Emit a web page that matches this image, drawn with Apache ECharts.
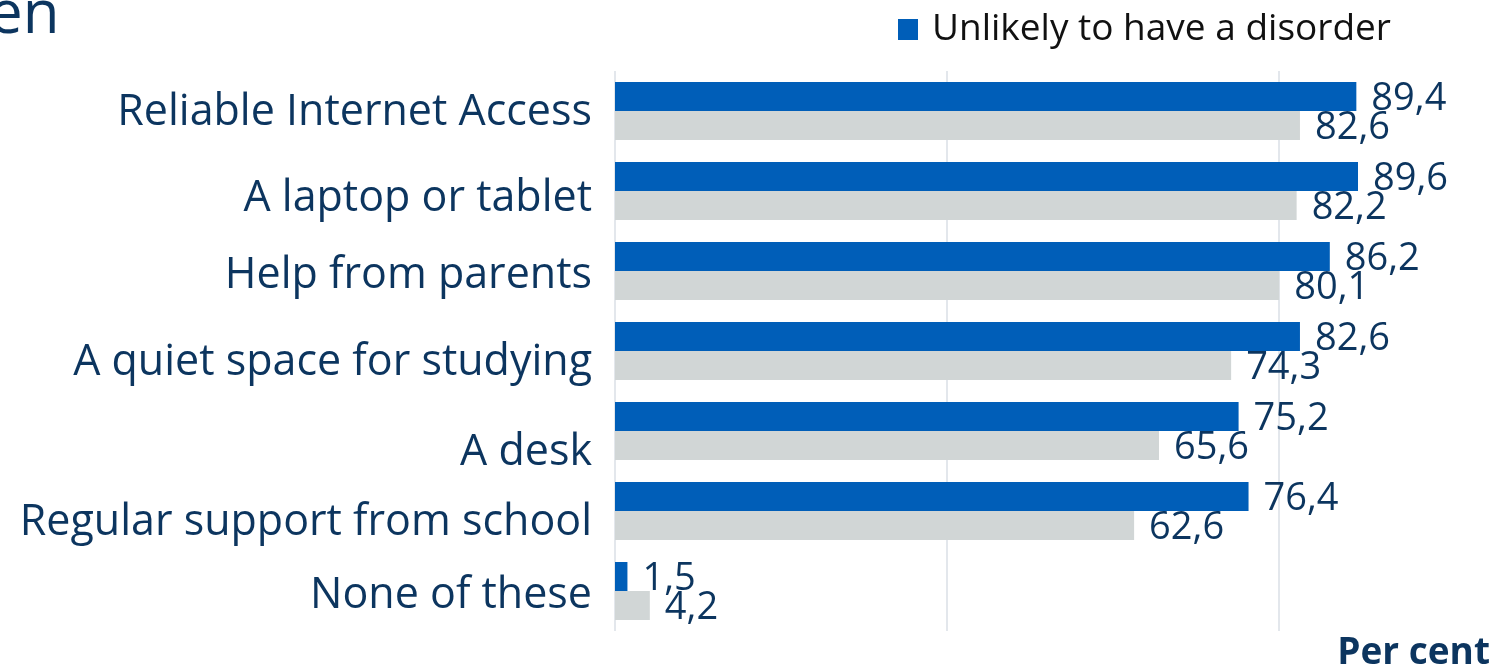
<!DOCTYPE html>
<html>
<head>
<meta charset="utf-8">
<script src="https://cdn.jsdelivr.net/npm/echarts@6/dist/echarts.min.js"></script>
<style>
  html, body { margin: 0; padding: 0; background: #fff; }
  #chart { width: 1494px; height: 667px; }
</style>
</head>
<body>
<div id="chart"></div>
<script>
// Resources available for home learning, by disorder status (per cent)
const categories = [
  'Reliable Internet Access',
  'A laptop or tablet',
  'Help from parents',
  'A quiet space for studying',
  'A desk',
  'Regular support from school',
  'None of these'
];
const unlikelyValues = [89.4, 89.6, 86.2, 82.6, 75.2, 76.4, 1.5];
const likelyValues = [82.6, 82.2, 80.1, 74.3, 65.6, 62.6, 4.2];
// visible part of the value axis runs to ~106; grid lines every 40
const axisTicks = { min: 0, max: 106, interval: 40 };

// downward nudge (px) of each category label relative to its band centre
const labelNudge = [2, 8, 5, 12, 22, 12, 5];

const NAVY = '#0c355f';
const FONT = '"Open Sans", "Noto Sans", sans-serif';
const GRID = '#e3e7ec';

const fmt = v => v.toFixed(1).replace('.', ',');

const rich = {};
labelNudge.forEach((s, i) => {
  rich['c' + i] = {
    color: NAVY, fontSize: 43, fontFamily: FONT,
    padding: [2 * s, 0, 0, 0]
  };
});

const chart = echarts.init(document.getElementById('chart'), null, { renderer: 'canvas' });

const labelStyle = {
  show: true,
  position: 'right',
  distance: 15,
  offset: [0, 3],
  color: NAVY,
  fontFamily: FONT,
  fontSize: 38,
  formatter: p => fmt(p.value)
};

chart.setOption({
  animation: false,
  backgroundColor: '#ffffff',
  textStyle: { fontFamily: FONT },
  graphic: [{
    type: 'text',
    left: -11,
    top: -14,
    style: { text: 'en', fill: NAVY, font: '60px ' + FONT }
  }, {
    type: 'text',
    right: 4,
    bottom: -5,
    style: { text: 'Per cent', fill: NAVY, font: 'bold 37px ' + FONT }
  }],
  legend: {
    data: ['Unlikely to have a disorder'],
    left: 893,
    top: 6,
    itemWidth: 20,
    itemHeight: 21,
    icon: 'rect',
    textStyle: { fontSize: 37, color: '#111', fontFamily: FONT, padding: [0, 0, 0, 9] }
  },
  grid: { left: 615, top: 71, bottom: 36, right: 0, containLabel: false },
  xAxis: {
    type: 'value',
    min: axisTicks.min,
    max: axisTicks.max,
    interval: axisTicks.interval,
    axisLabel: { show: false },
    axisLine: { show: false },
    axisTick: { show: false },
    // the closing line at the axis end is left transparent
    splitLine: { show: true, lineStyle: { color: [GRID, GRID, GRID, 'rgba(0,0,0,0)'], width: 2 } }
  },
  yAxis: {
    type: 'category',
    inverse: true,
    data: categories,
    axisLine: { show: false },
    axisTick: { show: false },
    axisLabel: {
      color: NAVY, fontSize: 43, fontFamily: FONT, margin: 23,
      formatter: (v, i) => '{c' + i + '|' + v + '}',
      rich: rich
    }
  },
  series: [{
    name: 'Unlikely to have a disorder',
    type: 'bar',
    data: unlikelyValues,
    barWidth: 29,
    barGap: '0%',
    itemStyle: { color: '#005eb8' },
    label: labelStyle
  }, {
    name: 'Likely to have a disorder',
    type: 'bar',
    data: likelyValues,
    barWidth: 29,
    barGap: '0%',
    itemStyle: { color: '#d1d6d6' },
    label: labelStyle
  }]
});
</script>
</body>
</html>
